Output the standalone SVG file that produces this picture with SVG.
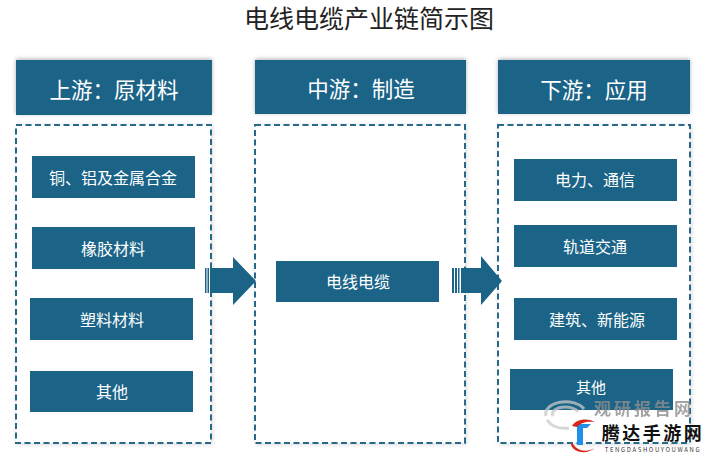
<svg xmlns="http://www.w3.org/2000/svg" width="712" height="455" viewBox="0 0 712 455">
<defs>
<filter id="sh" x="-5%" y="-20%" width="110%" height="140%"><feDropShadow dx="0" dy="-1" stdDeviation="2" flood-color="#000" flood-opacity="0.3"/></filter>
<filter id="sh2" x="-5%" y="-5%" width="110%" height="110%"><feDropShadow dx="1" dy="1" stdDeviation="2" flood-color="#000" flood-opacity="0.14"/></filter>
</defs>
<style>
text{font-family:"Noto Sans CJK SC","Noto Sans",sans-serif;text-anchor:middle;dominant-baseline:central}
.h{fill:#1b6488;filter:url(#sh)}
.b{fill:#1b6488}
.d{fill:#fff;stroke:#27678a;stroke-width:2;stroke-dasharray:6 3.5;filter:url(#sh2)}
.t{fill:#fff;font-size:16px}
.ht{fill:#fff;font-size:21.5px}
.a{fill:#1b6488}
</style>
<rect width="712" height="455" fill="#fff"/>
<text id="title" x="369" y="17" font-size="25" fill="#222">电线电缆产业链简示图</text>

<g id="col-up"><rect class="h" x="16" y="60" width="196" height="55"/><text class="ht" x="114" y="88">上游：原材料</text></g>
<g id="col-mid"><rect class="h" x="255" y="60" width="211" height="54"/><text class="ht" x="361" y="87">中游：制造</text></g>
<g id="col-down"><rect class="h" x="498" y="60" width="192" height="54"/><text class="ht" x="594" y="88">下游：应用</text></g>

<g id="panel-up"><rect class="d" x="16" y="125" width="195" height="318"/></g>
<g id="panel-mid"><rect class="d" x="255" y="125" width="210" height="318"/></g>
<g id="panel-down"><rect class="d" x="498" y="125" width="192" height="318"/></g>

<g id="n1"><rect class="b" x="32" y="156" width="163" height="42"/><text class="t" x="113" y="177">铜、铝及金属合金</text></g>
<g id="n2"><rect class="b" x="32" y="227" width="163" height="42"/><text class="t" x="113" y="248">橡胶材料</text></g>
<g id="n3"><rect class="b" x="30" y="298" width="163" height="42"/><text class="t" x="112" y="319">塑料材料</text></g>
<g id="n4"><rect class="b" x="30" y="371" width="163" height="41"/><text class="t" x="112" y="391">其他</text></g>
<g id="n5"><rect class="b" x="276" y="261" width="163" height="41"/><text class="t" x="358" y="281">电线电缆</text></g>
<g id="n6"><rect class="b" x="514" y="159" width="163" height="42"/><text class="t" x="595" y="179">电力、通信</text></g>
<g id="n7"><rect class="b" x="514" y="225" width="163" height="42"/><text class="t" x="595" y="246">轨道交通</text></g>
<g id="n8"><rect class="b" x="514" y="298" width="163" height="42"/><text class="t" x="597" y="319">建筑、新能源</text></g>
<g id="n9"><rect class="b" x="510" y="369" width="163" height="41"/><text class="t" x="591" y="386" style="font-size:15px">其他</text></g>

<g id="connectors">
<g class="a">
<rect x="205" y="268" width="1.5" height="25"/><rect x="207.5" y="268" width="1.5" height="25"/>
<polygon points="210,268 233,268 233,257 256,281 233,305 233,293 210,293"/>
<rect x="452" y="268" width="2" height="25"/><rect x="455" y="268" width="2" height="25"/><rect x="458" y="268" width="1.5" height="25"/>
<polygon points="461,268 481,268 481,256 502,281 481,305 481,293 461,293"/>
</g>
</g>

<g id="watermark">
<g fill="none" stroke="#c9c9c9" stroke-width="3" opacity="0.75">
<path d="M546 416a20 12 0 0 1 38-7"/><path d="M553 416a13 7 0 0 1 25-4"/><path d="M547 420c5 7 14 9 22 8"/>
</g>
<text x="644" y="407" font-size="17" letter-spacing="3" font-weight="700" fill="#8d8d8d" opacity="0.8">观研报告网</text>
<path d="M577 424h14l-4 4h-4v17h-6z" fill="#1e90e8"/>
<path d="M572 426c3-6 14-9 23-4-7-1-14 0-18 5z" fill="#d8261c"/>
<path d="M572 442c4 9 14 11 23 6-7 6-20 6-24-3z" fill="#d8261c"/>
<text x="653" y="432" font-size="18" letter-spacing="2.5" font-weight="700" fill="#111">腾达手游网</text>
<text x="653" y="449" font-size="6" letter-spacing="1.6" fill="#333">TENGDASHOUYOUWANG</text>
</g>
</svg>
